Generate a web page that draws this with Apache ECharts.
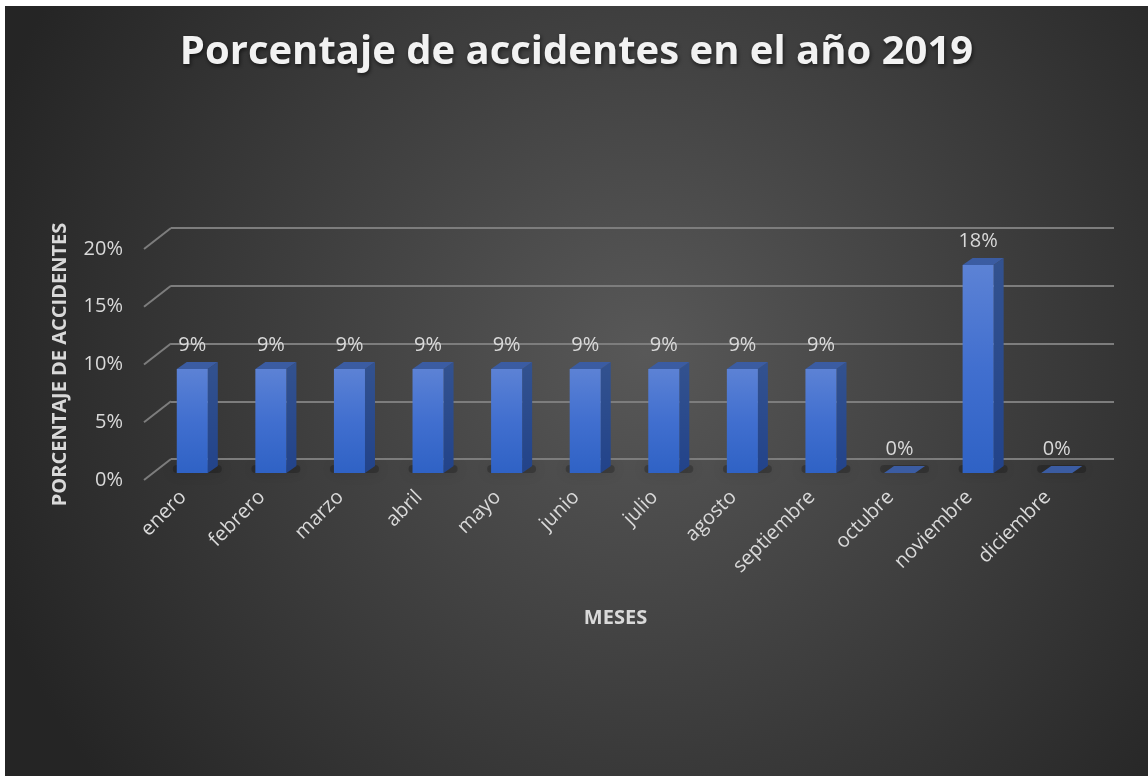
<!DOCTYPE html>
<html>
<head>
<meta charset="utf-8">
<script src="https://cdn.jsdelivr.net/npm/echarts@6/dist/echarts.min.js"></script>
<style>
html, body { margin: 0; padding: 0; background: #fff; }
#chart { position: absolute; left: 5px; top: 6px; width: 1143px; height: 770px; }
</style>
</head>
<body>
<div id="chart"></div>
<script>
const meses = ['enero', 'febrero', 'marzo', 'abril', 'mayo', 'junio', 'julio', 'agosto', 'septiembre', 'octubre', 'noviembre', 'diciembre']
const porcentaje = [9, 9, 9, 9, 9, 9, 9, 9, 9, 0, 18, 0]
const yTicks = [0, 5, 10, 15, 20]

const font = '"Open Sans", sans-serif'
const textColor = '#d9d9d9'
const depth = { x: 10, y: 7 }    // bar top/side offset
const floor = { x: 27, y: 21 }   // wall -> front edge of floor

function drawGridEdge(params, api) {
  const y = api.coord([0, api.value(1)])[1]
  const x = params.coordSys.x
  return {
    type: 'line',
    shape: { x1: x - floor.x, y1: y + floor.y, x2: x, y2: y },
    style: { stroke: '#7d7d7d', lineWidth: 2 }
  }
}

function drawBar(params, api) {
  const i = api.value(0)
  const v = api.value(1)
  const base = api.coord([i, 0])
  const top = api.coord([i, v])
  const w = api.size([1, 0])[0] * 0.395
  const x0 = base[0] - w / 2
  const x1 = x0 + w
  const h = base[1] - top[1]
  return {
    type: 'group',
    children: [{
      type: 'rect',
      shape: { x: x0 - 4, y: base[1] - 8, width: w + depth.x + 8, height: 8, r: 4 },
      style: { fill: 'rgba(0,0,0,0.22)', shadowBlur: 14, shadowColor: 'rgba(0,0,0,0.6)' }
    }, {
      type: 'polygon',
      shape: { points: [[x1, top[1]], [x1 + depth.x, top[1] - depth.y], [x1 + depth.x, base[1] - depth.y], [x1, base[1]]] },
      style: {
        fill: {
          type: 'linear', x: 0, y: 0, x2: 0, y2: 1,
          colorStops: [{ offset: 0, color: '#33528f' }, { offset: 1, color: '#22438a' }]
        }
      }
    }, {
      type: 'rect',
      shape: { x: x0, y: top[1], width: w, height: h },
      style: {
        fill: {
          type: 'linear', x: 0, y: 0, x2: 0, y2: 1,
          colorStops: [{ offset: 0, color: '#5c82d5' }, { offset: 0.5, color: '#416fcf' }, { offset: 1, color: '#2f62c5' }]
        }
      }
    }, {
      type: 'polygon',
      shape: { points: [[x0, top[1]], [x0 + depth.x, top[1] - depth.y], [x1 + depth.x, top[1] - depth.y], [x1, top[1]]] },
      style: { fill: '#3b5ca2' }
    }, {
      type: 'text',
      style: {
        text: v + '%', x: base[0], y: top[1] - 24,
        align: 'center', verticalAlign: 'middle',
        fill: textColor, font: '20px ' + font
      }
    }]
  }
}

const hidden = { show: false }

const option = {
  backgroundColor: {
    type: 'radial', x: 0.56, y: 0.45, r: 0.9,
    colorStops: [{ offset: 0, color: '#585858' }, { offset: 1, color: '#252525' }]
  },
  animation: false,
  title: {
    text: 'Porcentaje de accidentes en el año 2019',
    left: 'center',
    top: 22,
    textStyle: {
      fontFamily: font,
      fontWeight: 'bold',
      fontSize: 40,
      color: '#f2f2f2',
      textShadowColor: 'rgba(0,0,0,0.6)',
      textShadowBlur: 4,
      textShadowOffsetX: 1,
      textShadowOffsetY: 2
    }
  },
  grid: [
    { left: 148, top: 236, width: 943, height: 231 },   // bar plane
    { left: 166, top: 222, width: 943, height: 231 },   // back wall
    { left: 139, top: 243, width: 943, height: 231 }    // floor front edge
  ],
  xAxis: [{
    type: 'category', data: meses, gridIndex: 0,
    axisLine: hidden, axisTick: hidden, axisLabel: hidden
  }, {
    type: 'category', data: meses, gridIndex: 1,
    axisLine: hidden, axisTick: hidden, axisLabel: hidden
  }, {
    type: 'category', data: meses, gridIndex: 2,
    axisLine: hidden, axisTick: hidden,
    axisLabel: {
      rotate: 45, margin: 14, interval: 0,
      color: textColor, fontFamily: font, fontSize: 20
    },
    name: 'MESES',
    nameLocation: 'middle',
    nameGap: 128,
    nameTextStyle: { color: textColor, fontFamily: font, fontWeight: 'bold', fontSize: 20 }
  }],
  yAxis: [{
    type: 'value', min: 0, max: 20, interval: 5, gridIndex: 0,
    axisLine: hidden, axisTick: hidden, axisLabel: hidden, splitLine: hidden
  }, {
    type: 'value', min: 0, max: 20, interval: 5, gridIndex: 1,
    axisLine: hidden, axisTick: hidden, axisLabel: hidden,
    splitLine: { lineStyle: { color: '#7d7d7d', width: 2 } }
  }, {
    type: 'value', min: 0, max: 20, interval: 5, gridIndex: 2,
    axisLine: hidden, axisTick: hidden, splitLine: hidden,
    axisLabel: {
      formatter: '{value}%', margin: 21,
      color: textColor, fontFamily: font, fontSize: 20
    },
    name: 'PORCENTAJE DE ACCIDENTES',
    nameLocation: 'middle',
    nameRotate: 90,
    nameGap: 74,
    nameTextStyle: { color: textColor, fontFamily: font, fontWeight: 'bold', fontSize: 20 }
  }],
  series: [{
    type: 'custom',
    xAxisIndex: 1,
    yAxisIndex: 1,
    silent: true,
    renderItem: drawGridEdge,
    data: yTicks.map(v => [0, v])
  }, {
    type: 'custom',
    name: 'Porcentaje de accidentes',
    xAxisIndex: 0,
    yAxisIndex: 0,
    renderItem: drawBar,
    data: porcentaje.map((v, i) => [i, v])
  }]
}

const chart = echarts.init(document.getElementById('chart'))
chart.setOption(option)
</script>
</body>
</html>
